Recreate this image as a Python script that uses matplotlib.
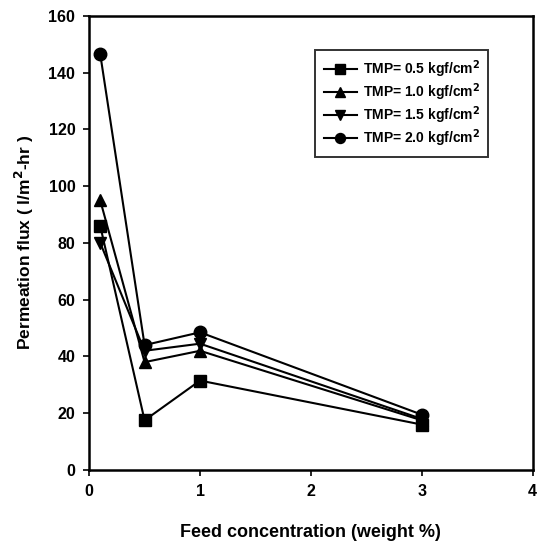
import matplotlib.pyplot as plt

plt.rcParams['font.family'] = ['Liberation Sans', 'DejaVu Sans']
plt.rcParams['font.weight'] = 'bold'

# feed concentration (weight %)
conc = [0.1, 0.5, 1.0, 3.0]

# permeation flux (l/m2-hr) for each transmembrane pressure
flux_05 = [86, 17.5, 31.5, 16]
flux_10 = [95, 38, 42, 17.5]
flux_15 = [80, 42, 44.5, 18]
flux_20 = [146.5, 44, 48.5, 19.5]

labels = ['TMP= 0.5 kgf/cm$^2$', 'TMP= 1.0 kgf/cm$^2$',
          'TMP= 1.5 kgf/cm$^2$', 'TMP= 2.0 kgf/cm$^2$']
markers = ['s', '^', 'v', 'o']

fig = plt.figure(figsize=(5.37, 5.44), dpi=100)
ax = fig.add_axes([0.166, 0.136, 0.826, 0.835])

for y, m, lab in zip([flux_05, flux_10, flux_15, flux_20], markers, labels):
    ax.plot(conc, y, color='black', marker=m, markersize=9, linewidth=1.5, label=lab)

ax.set_xlim(0, 4)
ax.set_ylim(0, 160)
ax.set_xticks([0, 1, 2, 3, 4])
ax.set_yticks(range(0, 161, 20))
ax.tick_params(direction='out', length=4, width=1.2, labelsize=11.5, pad=6)
for s in ax.spines.values():
    s.set_linewidth(1.8)

ax.set_xlabel('Feed concentration (weight %)', fontsize=13, fontweight='bold', labelpad=18)
ax.set_ylabel('Permeation flux ( l/m$^2$-hr )', fontsize=12.5, fontweight='bold', labelpad=9)

leg = ax.legend(loc='upper left', bbox_to_anchor=(0.51, 0.925), borderaxespad=0,
                fontsize=10, frameon=True, fancybox=False, edgecolor='black',
                handlelength=2.4, handletextpad=0.4, markerscale=0.8,
                borderpad=0.6, labelspacing=0.1)
leg.get_frame().set_linewidth(1.4)

fig.savefig('out.png', dpi=100)
